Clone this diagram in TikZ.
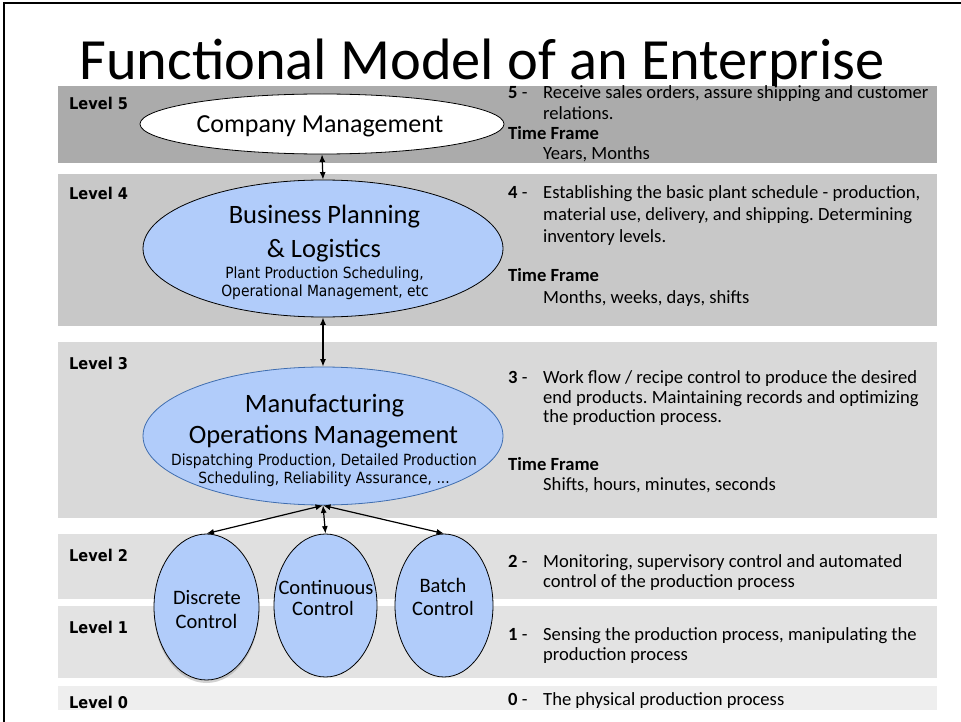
\documentclass[tikz,border=0pt]{standalone}
\usepackage{fontspec}
\setmainfont{Carlito}
\newfontfamily\tah[FakeStretch=0.9]{DejaVu Sans}
\usetikzlibrary{arrows.meta,shapes.geometric,shadows}
\definecolor{bandA}{RGB}{171,171,171}
\definecolor{bandB}{RGB}{200,200,200}
\definecolor{bandC}{RGB}{217,217,217}
\definecolor{bandD}{RGB}{224,224,224}
\definecolor{bandE}{RGB}{227,227,227}
\definecolor{bandF}{RGB}{238,238,238}
\definecolor{ellblue}{RGB}{177,204,250}
\definecolor{momblue}{RGB}{63,109,175}
\frenchspacing
\begin{document}
\begin{tikzpicture}[x=1pt,y=-1pt,
  ell/.style={ellipse, draw=black, line width=0.8pt, fill=ellblue, inner sep=0pt},
  big/.style={font=\fontsize{26.5}{28}\selectfont, anchor=base, inner sep=0pt},
  small/.style={font=\tah\fontsize{15.4}{17}\selectfont, anchor=base, inner sep=0pt},
  ctl/.style={font=\fontsize{20.5}{22}\selectfont, anchor=base, inner sep=0pt},
  lvl/.style={font=\tah\bfseries\fontsize{16.2}{18}\selectfont, anchor=base west, inner sep=0pt},
  desc/.style={font=\fontsize{18.6}{20}\selectfont, anchor=base west, inner sep=0pt},
  tf/.style={font=\bfseries\fontsize{18.6}{20}\selectfont, anchor=base west, inner sep=0pt},
  conn/.style={line width=1.2pt, {Latex[length=7.5pt,width=6pt]}-{Latex[length=7.5pt,width=6pt]}},
]
\useasboundingbox (0,0) rectangle (961,722);
\fill[white] (0,0) rectangle (961,722);
\draw[line width=2pt] (3.5,722) -- (3.5,3.5) -- (961,3.5);

% title
\node[font=\fontsize{58.4}{60}\selectfont, anchor=base west, inner sep=0pt, text depth=0pt] (title) at (79,80) {Functional Model of an Enterprise};

% bands
\fill[bandA] (58,86) rectangle (937,163);
\fill[bandB] (58,174) rectangle (937,326);
\fill[bandC] (58,342) rectangle (937,518);
\fill[bandD] (58,534) rectangle (937,599);
\fill[bandE] (58,606) rectangle (937,678);
\fill[bandF] (58,686) rectangle (937,710);

% level labels
\node[lvl] (l5) at (69,110) {Level 5};
\node[lvl] (l4) at (69,200) {Level 4};
\node[lvl] (l3) at (69,369) {Level 3};
\node[lvl] (l2) at (69,561) {Level 2};
\node[lvl] (l1) at (69,633) {Level 1};
\node[lvl] (l0) at (69,708) {Level 0};

% ellipses
\node[ell, fill=white, minimum width=364pt, minimum height=60pt] (cm) at (322,124) {};
\node[ell, minimum width=360pt, minimum height=137pt] (bpl) at (323,248.5) {};
\node[ell, draw=momblue, minimum width=360pt, minimum height=138pt] (mom) at (323,436) {};
\node[ell, minimum width=105pt, minimum height=146pt, drop shadow={opacity=0.35, shadow xshift=0pt, shadow yshift=-3pt}] (dc) at (206.5,607) {};
\node[ell, minimum width=103pt, minimum height=143pt] (cc) at (325.5,605.5) {};
\node[ell, minimum width=98pt, minimum height=143pt] (bc) at (444,605.5) {};

% connectors
\draw[conn] (cm.south) -- (bpl.north);
\draw[conn] (bpl.south) -- (mom.north);
\draw[conn] (mom.south) -- (dc.north);
\draw[conn] (mom.south) -- (cc.north);
\draw[conn] (mom.south) -- (bc.north);

% ellipse texts
\node[big, font=\fontsize{26}{28}\selectfont] (cmT) at (320,133) {Company Management};
\node[big] (bplT1) at (324.5,224) {Business Planning};
\node[big] (bplT2) at (324,258) {\& Logistics};
\node[small] (bplT3) at (324.5,278) {Plant Production Scheduling,};
\node[small] (bplT4) at (325,296) {Operational Management, etc};
\node[big] (momT1) at (324.5,412) {Manufacturing};
\node[big] (momT2) at (323.5,443) {Operations Management};
\node[small] (momT3) at (324,465) {Dispatching Production, Detailed Production};
\node[small] (momT4) at (324,483) {Scheduling, Reliability Assurance, ...};
\node[ctl] (dcT1) at (207,604) {Discrete};
\node[ctl] (dcT2) at (206.5,628) {Control};
\node[ctl] (ccT1) at (326,594) {Continuous};
\node[ctl] (ccT2) at (323,615) {Control};
\node[ctl] (bcT1) at (443,592) {Batch};
\node[ctl] (bcT2) at (443,615) {Control};

% descriptions
\node[desc] (n5) at (508,99) {\textbf{5} -};
\node[desc] (d5a) at (543,99) {Receive sales orders, assure shipping and customer};
\node[desc] (d5b) at (543,120) {relations.};
\node[tf] (t5) at (508,140) {Time Frame};
\node[desc] (f5) at (543,160) {Years, Months};

\node[desc] (n4) at (508,199) {\textbf{4} -};
\node[desc] (d4a) at (543,199) {Establishing the basic plant schedule - production,};
\node[desc] (d4b) at (543,221) {material use, delivery, and shipping. Determining};
\node[desc] (d4c) at (543,242) {inventory levels.};
\node[tf] (t4) at (508,281) {Time Frame};
\node[desc] (f4) at (543,303) {Months, weeks, days, shifts};

\node[desc] (n3) at (508,383) {\textbf{3} -};
\node[desc] (d3a) at (543,383) {Work flow / recipe control to produce the desired};
\node[desc] (d3b) at (543,403) {end products. Maintaining records and optimizing};
\node[desc] (d3c) at (543,422) {the production process.};
\node[tf] (t3) at (508,470) {Time Frame};
\node[desc] (f3) at (543,490) {Shifts, hours, minutes, seconds};

\node[desc] (n2) at (508,567) {\textbf{2} -};
\node[desc] (d2a) at (543,567) {Monitoring, supervisory control and automated};
\node[desc] (d2b) at (543,587) {control of the production process};

\node[desc] (n1) at (508,640) {\textbf{1} -};
\node[desc] (d1a) at (543,640) {Sensing the production process, manipulating the};
\node[desc] (d1b) at (543,660) {production process};

\node[desc] (n0) at (508,705) {\textbf{0} -};
\node[desc] (d0a) at (543,705) {The physical production process};
\end{tikzpicture}
\end{document}
